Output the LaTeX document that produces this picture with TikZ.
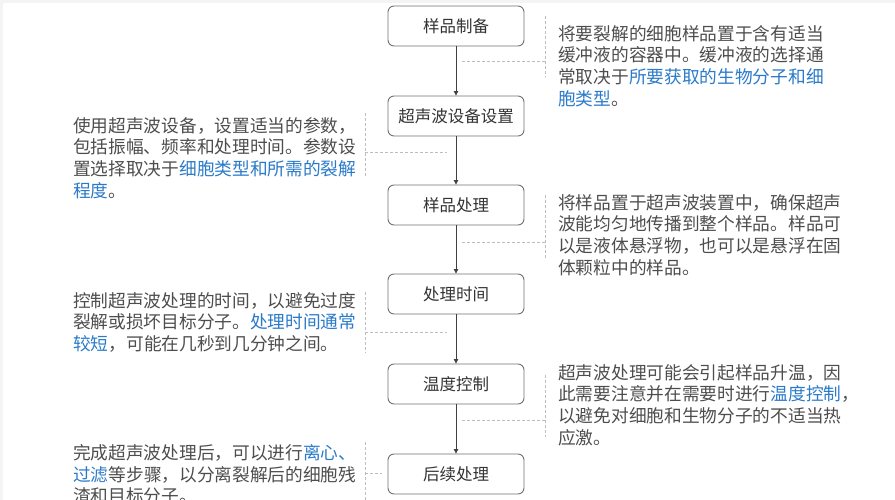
\documentclass[tikz,border=0pt]{standalone}
\usepackage{fontspec}
\setmainfont{Noto Sans CJK SC}
\usetikzlibrary{arrows.meta}
\definecolor{txtgray}{HTML}{4D4D4D}
\definecolor{boxtxt}{HTML}{333333}
\definecolor{hlblue}{HTML}{2A7AC9}
\definecolor{boxline}{HTML}{707070}
\definecolor{arrowc}{HTML}{404040}
\definecolor{dashc}{HTML}{BDBDBD}
\definecolor{bandgray}{HTML}{F4F4F4}
\newcommand\hl[1]{\textcolor{hlblue}{#1}}
\tikzset{
  stepbox/.style={draw=boxline, line width=0.9pt, rounded corners=6pt, fill=white,
    minimum width=136pt, minimum height=40pt, inner sep=0pt,
    text=boxtxt, font=\fontsize{16.5}{20}\selectfont},
  note/.style={anchor=north west, inner sep=0pt, align=left, text=txtgray,
    font=\fontsize{17.7}{21.8}\selectfont},
  flow/.style={draw=arrowc, line width=0.8pt, -{Triangle[width=4.5pt,length=4.5pt]}},
  guide/.style={draw=dashc, line width=0.7pt, dash pattern=on 3pt off 2pt}
}
\begin{document}
\begin{tikzpicture}[x=1pt,y=-1pt]
\useasboundingbox (0,0) rectangle (895,500);
\fill[bandgray] (0,0) rectangle (895,3);
\fill[bandgray] (0,0) rectangle (3,500);

% boxes
\node[stepbox] (b1) at (456,26) {样品制备};
\node[stepbox] (b2) at (456,116) {超声波设备设置};
\node[stepbox] (b3) at (456,205) {样品处理};
\node[stepbox] (b4) at (456,294) {处理时间};
\node[stepbox] (b5) at (456,384) {温度控制};
\node[stepbox] (b6) at (456,474) {后续处理};

% arrows
\draw[flow] (b1) -- (b2);
\draw[flow] (b2) -- (b3);
\draw[flow] (b3) -- (b4);
\draw[flow] (b4) -- (b5);
\draw[flow] (b5) -- (b6);

% notes
\node[note] (n1) at (558,25) {将要裂解的细胞样品置于含有适当\\缓冲液的容器中。缓冲液的选择通\\常取决于\hl{所要获取的生物分子和细}\\\hl{胞类型}。};
\node[note] (n2) at (73,117) {使用超声波设备，设置适当的参数，\\包括振幅、频率和处理时间。参数设\\置选择取决于\hl{细胞类型和所需的裂解}\\\hl{程度}。};
\node[note] (n3) at (558,194) {将样品置于超声波装置中，确保超声\\波能均匀地传播到整个样品。样品可\\以是液体悬浮物，也可以是悬浮在固\\体颗粒中的样品。};
\node[note] (n4) at (73,292) {控制超声波处理的时间，以避免过度\\裂解或损坏目标分子。\hl{处理时间通常}\\\hl{较短}，可能在几秒到几分钟之间。};
\node[note] (n5) at (558,364) {超声波处理可能会引起样品升温，因\\此需要注意并在需要时进行\hl{温度控制}，\\以避免对细胞和生物分子的不适当热\\应激。};
\node[note] (n6) at (73,444) {完成超声波处理后，可以进行\hl{离心、}\\\hl{过滤}等步骤，以分离裂解后的细胞残\\渣和目标分子。};

% guide brackets
\coordinate (r1t) at (545,16); \coordinate (r1b) at (545,77);
\coordinate (r1m) at (545,61); \coordinate (r1a) at (462,61);
\draw[guide] (r1t) -- (r1b); \draw[guide] (r1a) -- (r1m);

\coordinate (l2t) at (365,113); \coordinate (l2b) at (365,177);
\coordinate (l2m) at (365,152); \coordinate (l2a) at (447,152);
\draw[guide] (l2t) -- (l2b); \draw[guide] (l2m) -- (l2a);

\coordinate (r3t) at (545,195); \coordinate (r3b) at (545,258);
\coordinate (r3m) at (545,242); \coordinate (r3a) at (462,242);
\draw[guide] (r3t) -- (r3b); \draw[guide] (r3a) -- (r3m);

\coordinate (l4t) at (365,292); \coordinate (l4b) at (365,353);
\coordinate (l4m) at (365,332); \coordinate (l4a) at (447,332);
\draw[guide] (l4t) -- (l4b); \draw[guide] (l4m) -- (l4a);

\coordinate (r5t) at (545,375); \coordinate (r5b) at (545,437);
\coordinate (r5m) at (545,420); \coordinate (r5a) at (462,420);
\draw[guide] (r5t) -- (r5b); \draw[guide] (r5a) -- (r5m);

\coordinate (l6t) at (365,442); \coordinate (l6b) at (365,500);
\coordinate (l6m) at (365,473); \coordinate (l6a) at (382,473);
\draw[guide] (l6t) -- (l6b); \draw[guide] (l6m) -- (l6a);
\end{tikzpicture}
\end{document}
